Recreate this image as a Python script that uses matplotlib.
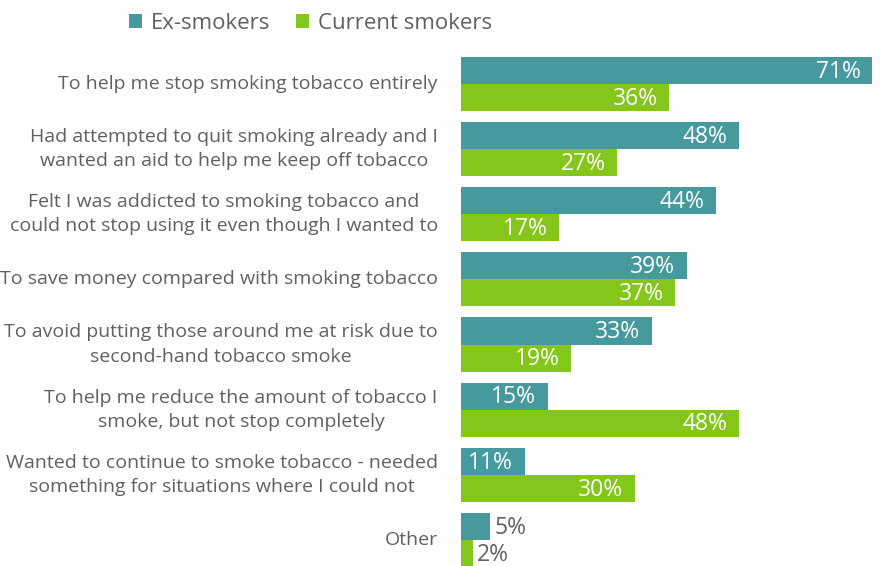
import matplotlib
matplotlib.use('Agg')
import matplotlib.pyplot as plt
import numpy as np

categories = [
    'To help me stop smoking tobacco entirely',
    'Had attempted to quit smoking already and I\nwanted an aid to help me keep off tobacco',
    'Felt I was addicted to smoking tobacco and\ncould not stop using it even though I wanted to',
    'To save money compared with smoking tobacco',
    'To avoid putting those around me at risk due to\nsecond-hand tobacco smoke',
    'To help me reduce the amount of tobacco I\nsmoke, but not stop completely',
    'Wanted to continue to smoke tobacco - needed\nsomething for situations where I could not',
    'Other',
]
ex_smokers = [71, 48, 44, 39, 33, 15, 11, 5]
current_smokers = [36, 27, 17, 37, 19, 48, 30, 2]
series_names = ['Ex-smokers', 'Current smokers']

teal = '#469a9e'
green = '#84c71a'
grey = '#606060'
plt.rcParams['font.family'] = ['Open Sans', 'DejaVu Sans']

fig = plt.figure(figsize=(8.8, 5.66), dpi=100)
ax = fig.add_axes([461 / 880, 0, 414 / 880, 512 / 566])

y = np.arange(len(categories))
h = 0.415
ax.barh(y - h / 2, ex_smokers, height=h, color=teal, label=series_names[0])
ax.barh(y + h / 2, current_smokers, height=h, color=green, label=series_names[1])
ax.set_xlim(0, 71.5)
ax.set_ylim(7.40, -0.46)

for vals, off in ((ex_smokers, -h / 2), (current_smokers, h / 2)):
    for i, v in enumerate(vals):
        if v >= 10:
            ax.text(v - 2.0, i + off + 0.02, f'{v}%', ha='right', va='center',
                    color='white', fontsize=16.5)
        else:
            ax.text(v + 0.8, i + off + 0.02, f'{v}%', ha='left', va='center',
                    color=grey, fontsize=16.5)

for i, c in enumerate(categories):
    ax.text(-4.0, i, c, ha='right', va='center', multialignment='center',
            color=grey, fontsize=14, linespacing=1.45)

ax.set_xticks([])
ax.set_yticks([])
for s in ax.spines.values():
    s.set_visible(False)

fig.legend(loc='upper left', bbox_to_anchor=(109 / 880, 1.012), ncol=2,
           frameon=False, fontsize=16, labelcolor=grey, handlelength=0.6,
           handleheight=0.6, handletextpad=0.4, columnspacing=1.15)

fig.savefig('out.png', dpi=100)
